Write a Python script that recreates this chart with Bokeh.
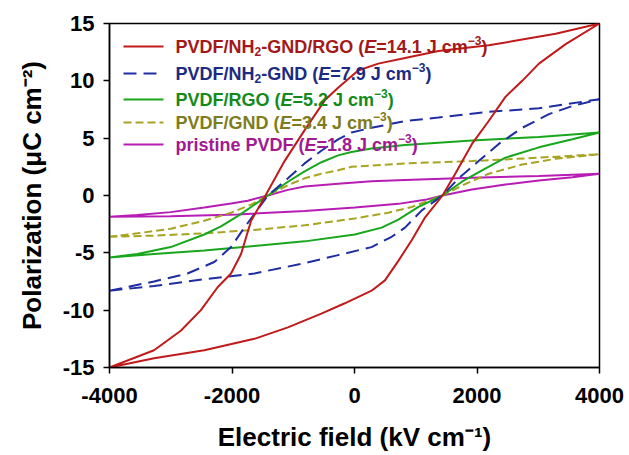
from bokeh.plotting import figure
from bokeh.models import Label, Range1d, FixedTicker
from bokeh.embed import file_html
from bokeh.resources import INLINE

# ---------------- data (E in kV/cm, P in uC/cm^2) ----------------
x_ticks = [-4000, -2000, 0, 2000, 4000]
y_ticks = [-15, -10, -5, 0, 5, 10, 15]

# PVDF/NH2-GND/RGO
red_up_E = [-4000, -3273, -2453, -1634, -1087, -541, -158, 279, 497, 716, 934, 1153, 1437, 1645, 1918, 2191, 2464, 2738, 3011, 3448, 4000]
red_up_P = [-15.0, -14.2, -13.5, -12.5, -11.5, -10.3, -9.4, -8.3, -7.4, -5.7, -3.9, -1.9, 0.0, 1.9, 4.5, 6.5, 8.6, 10.0, 11.5, 13.2, 15.0]
red_dn_E = [4000, 3284, 2738, 2191, 1371, 825, 388, 60, -268, -486, -814, -1142, -1453, -1688, -1852, -2016, -2235, -2508, -2836, -3273, -4000]
red_dn_P = [15.0, 14.1, 13.6, 13.1, 12.6, 12.0, 11.5, 10.9, 9.4, 8.3, 5.7, 3.0, 0.0, -2.2, -5.1, -6.8, -8.0, -10.0, -11.8, -13.5, -15.0]

# PVDF/NH2-GND
blue_up_E = [-4000, -3273, -2453, -1634, -814, -268, 279, 607, 825, 1098, 1437, 1700, 2027, 2355, 2738, 3175, 3557, 4000]
blue_up_P = [-8.3, -7.9, -7.3, -6.8, -5.9, -5.2, -4.5, -3.6, -2.8, -1.3, 0.0, 1.5, 3.0, 4.5, 5.9, 7.1, 7.8, 8.4]
blue_dn_E = [4000, 3011, 2191, 1371, 825, 279, -49, -268, -541, -814, -1087, -1415, -1579, -1798, -2016, -2289, -2727, -3273, -4000]
blue_dn_P = [8.4, 7.6, 7.3, 6.8, 6.5, 5.9, 5.5, 4.9, 3.9, 2.8, 1.5, 0.0, -1.2, -2.8, -4.5, -5.8, -6.8, -7.5, -8.3]

# PVDF/RGO
green_up_E = [-4000, -3273, -2453, -1634, -814, 5, 443, 716, 1044, 1437, 1754, 2082, 2464, 3011, 3557, 4000]
green_up_P = [-5.4, -5.1, -4.8, -4.4, -4.0, -3.4, -2.8, -2.1, -1.0, 0.0, 1.2, 2.2, 3.3, 4.2, 4.9, 5.5]
green_dn_E = [4000, 3011, 1918, 825, 279, -49, -268, -541, -814, -1087, -1415, -1688, -1907, -2180, -2453, -3000, -3546, -4000]
green_dn_P = [5.5, 5.1, 4.8, 4.4, 4.1, 3.8, 3.5, 2.9, 2.1, 1.2, 0.0, -1.0, -1.8, -2.7, -3.4, -4.5, -5.1, -5.4]

# PVDF/GND
olive_up_E = [-4000, -3273, -2453, -1634, -814, 5, 552, 934, 1437, 1809, 2191, 2738, 3284, 4000]
olive_up_P = [-3.6, -3.5, -3.3, -3.0, -2.6, -2.0, -1.5, -1.0, 0.0, 1.0, 1.9, 2.7, 3.2, 3.6]
olive_dn_E = [4000, 3011, 1918, 825, 279, -49, -268, -541, -814, -1087, -1415, -1688, -2016, -2453, -3000, -3546, -4000]
olive_dn_P = [3.6, 3.3, 3.0, 2.8, 2.6, 2.5, 2.2, 1.9, 1.5, 0.9, 0.0, -0.8, -1.5, -2.2, -2.9, -3.3, -3.6]

# pristine PVDF
mag_up_E = [-4000, -3000, -1907, -814, 5, 716, 1153, 1437, 1918, 2464, 3011, 3557, 4000]
mag_up_P = [-1.85, -1.8, -1.65, -1.35, -1.05, -0.73, -0.38, 0.0, 0.52, 0.96, 1.31, 1.6, 1.9]
mag_dn_E = [4000, 3011, 1918, 825, 279, -268, -814, -1087, -1415, -1743, -2016, -2453, -3000, -3546, -4000]
mag_dn_P = [1.9, 1.7, 1.55, 1.36, 1.25, 1.02, 0.78, 0.49, 0.0, -0.45, -0.7, -1.05, -1.45, -1.7, -1.85]

# ---------------- styling ----------------
FONT = "Liberation Sans"
W, H = 629, 455
FL, FR, FT, FB = 109, 599, 23, 367  # frame edges in px

p = figure(width=W, height=H, output_backend="svg", toolbar_location=None,
           x_range=Range1d(-4000, 4000), y_range=Range1d(-15, 15),
           min_border_left=FL, min_border_right=W - FR, min_border_top=FT,
           min_border_bottom=H - FB)
p.background_fill_color = "white"
p.border_fill_color = "white"
p.outline_line_color = "black"
p.outline_line_width = 1.5
p.xgrid.visible = False
p.ygrid.visible = False

p.xaxis.ticker = FixedTicker(ticks=x_ticks)
p.yaxis.ticker = FixedTicker(ticks=y_ticks)
p.xaxis.major_label_overrides = {t: str(t) for t in x_ticks}
p.yaxis.major_label_overrides = {t: str(t) for t in y_ticks}
for ax in (p.xaxis[0], p.yaxis[0]):
    ax.axis_line_width = 1.5
    ax.axis_line_color = "black"
    ax.major_tick_line_width = 1.5
    ax.major_tick_line_color = "black"
    ax.major_tick_out = 6
    ax.major_tick_in = 0
    ax.minor_tick_line_color = None
    ax.major_label_text_font = FONT
    ax.major_label_text_font_style = "bold"
    ax.major_label_text_font_size = "22px"
    ax.major_label_text_color = "black"
    ax.axis_label_text_font = FONT
    ax.axis_label_text_font_style = "bold"
    ax.axis_label_text_font_size = "26px"
    ax.axis_label_text_color = "black"
p.xaxis.major_label_standoff = 14
p.xaxis.axis_label_standoff = 16
p.yaxis.major_label_standoff = 9
p.yaxis.axis_label_standoff = 13
p.xaxis.axis_label = "Electric field (kV cm\u207b\u00b9)"
p.yaxis.axis_label = "Polarization (\u03bcC cm\u207b\u00b2)"

series = [
    (red_up_E, red_up_P, red_dn_E, red_dn_P, "#C01A1A", None, "#A31818"),
    (blue_up_E, blue_up_P, blue_dn_E, blue_dn_P, "#1F2DA3", "13 7", "#1B2A82"),
    (green_up_E, green_up_P, green_dn_E, green_dn_P, "#17A61C", None, "#138A1A"),
    (olive_up_E, olive_up_P, olive_dn_E, olive_dn_P, "#A6A422", "8 4", "#7E7C20"),
    (mag_up_E, mag_up_P, mag_dn_E, mag_dn_P, "#B71DB5", None, "#A11A92"),
]

for upE, upP, dnE, dnP, col, dash, _ in reversed(series):
    kw = dict(line_color=col, line_width=2)
    if dash:
        kw["line_dash"] = dash
    p.line(upE + dnE[1:], upP + dnP[1:], **kw)

# ---------------- legend (rich text built from pieces) ----------------
ADV = {' ': 278, '(': 333, ')': 333, '-': 333, '.': 278, '/': 278, '=': 584,
       'A': 722, 'C': 722, 'D': 722, 'E': 667, 'F': 611, 'G': 778, 'H': 722,
       'J': 556, 'N': 722, 'O': 778, 'P': 667, 'R': 722, 'V': 667,
       'c': 556, 'd': 611, 'e': 556, 'i': 278, 'm': 889, 'n': 611, 'p': 611,
       'r': 389, 's': 556, 't': 333, '\u2212': 584}


def tw(s, size):
    return sum(ADV.get(ch, 556) for ch in s) * size / 1000.0


legend_rows = [
    [("PVDF/NH", "n"), ("2", "sub"), ("-GND/RGO (", "n"), ("E", "i"), ("=14.1 J cm", "n"), ("\u22123", "sup"), (")", "n")],
    [("PVDF/NH", "n"), ("2", "sub"), ("-GND (", "n"), ("E", "i"), ("=7.9 J cm", "n"), ("\u22123", "sup"), (")", "n")],
    [("PVDF/RGO (", "n"), ("E", "i"), ("=5.2 J cm", "n"), ("\u22123", "sup"), (")", "n")],
    [("PVDF/GND (", "n"), ("E", "i"), ("=3.4 J cm", "n"), ("\u22123", "sup"), (")", "n")],
    [("pristine PVDF (", "n"), ("E", "i"), ("=1.8 J cm", "n"), ("\u22123", "sup"), (")", "n")],
]
row_y = [46, 73, 99, 122, 144]      # px from top of canvas
sample_x0, sample_x1, text_x = 123, 163, 175
FS, FS_SMALL = 18, 12

x_per_px = 8000.0 / (FR - FL)
y_per_px = 30.0 / (FB - FT)

for (upE, upP, dnE, dnP, col, dash, tcol), pieces, ry in zip(series, legend_rows, row_y):
    yy = 15 - (ry - FT) * y_per_px
    kw = dict(line_color=col, line_width=2)
    if dash:
        kw["line_dash"] = dash
    p.line([-4000 + (sample_x0 - FL) * x_per_px, -4000 + (sample_x1 - FL) * x_per_px], [yy, yy], **kw)
    cx = text_x
    for txt, st in pieces:
        size = FS if st in ("n", "i") else FS_SMALL
        dy = 0
        if st == "sub":
            dy = -5
        elif st == "sup":
            dy = 6
        lab = Label(x=-4000, y=15, x_offset=cx - FL, y_offset=-(ry - FT) + dy,
                    text=txt, text_font=FONT,
                    text_font_style="bold italic" if st == "i" else "bold",
                    text_font_size=f"{size}px", text_color=tcol,
                    text_baseline="middle", text_align="left")
        p.add_layout(lab)
        cx += tw(txt, size)

open("out.html", "w").write(file_html(p, INLINE))
